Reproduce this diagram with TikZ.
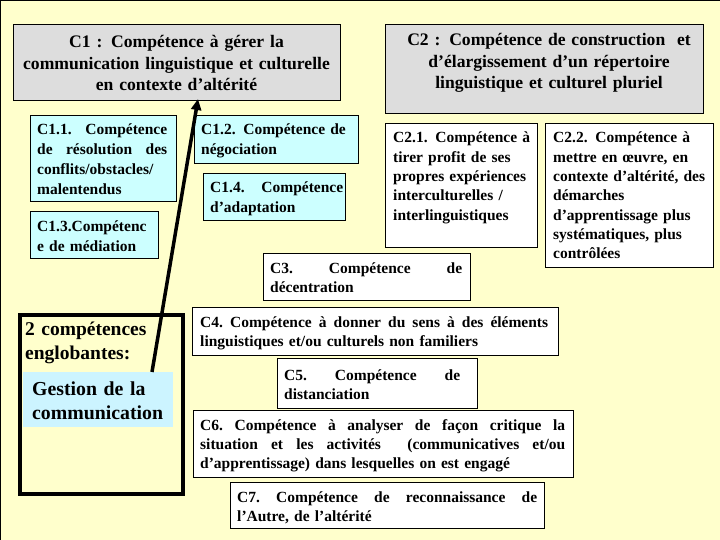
\documentclass[tikz,border=0pt]{standalone}
\usepackage{fontspec}
\setmainfont{Liberation Serif}
\usetikzlibrary{arrows.meta}
\definecolor{bgy}{HTML}{FFFFCC}
\definecolor{gbox}{HTML}{DDDDDD}
\definecolor{cbox}{HTML}{CCFFFF}
\definecolor{gcom}{HTML}{CCF4FF}
\newcommand\jl[2]{\leavevmode\hbox to #1{#2}}
\begin{document}
\begin{tikzpicture}[x=1pt,y=-1pt,
  frame/.style={draw=black, line width=1pt, anchor=north west, inner sep=0pt},
  graybox/.style={frame, fill=gbox},
  cyanbox/.style={frame, fill=cbox},
  whitebox/.style={frame, fill=white},
  title/.style={anchor=base, inner sep=0pt, align=center, font=\bfseries\fontsize{17.6}{21.5}\selectfont},
  txt/.style={anchor=base west, inner sep=0pt, align=left, font=\bfseries\fontsize{15.5}{19.3}\selectfont},
  big/.style={anchor=base west, inner sep=0pt, align=left, font=\bfseries\fontsize{19.5}{24}\selectfont}]
\fill[bgy] (0,0) rectangle (720,540);
\useasboundingbox (0,0) rectangle (720,540);
\draw[line width=1pt] (0,0.5) -- (720,0.5);
\draw[line width=1pt] (0.5,0) -- (0.5,540);

% C1 and C2
\node[graybox, minimum width=327pt, minimum height=76pt] (c1) at (13,24) {};
\node[title, text width=325pt] (c1t) at (176.5,48) {C1 : Compétence à gérer la\\communication linguistique et culturelle\\en contexte d’altérité};
\node[graybox, minimum width=318pt, minimum height=89pt] (c2) at (385,24) {};
\node[title, text width=315pt] (c2t) at (549,46) {C2 : Compétence de construction~ et\\d’élargissement d’un répertoire\\linguistique et culturel pluriel};

% C1 sub-boxes
\node[cyanbox, minimum width=146pt, minimum height=86pt] (c11) at (30,115) {};
\node[txt, font=\bfseries\fontsize{15.5}{20}\selectfont, text width=130pt] (c11t) at (37,135) {\jl{130pt}{C1.1.\hfill Compétence}\\\jl{130pt}{de\hfill résolution\hfill des}\\conflits/obstacles/\\malentendus};
\node[cyanbox, minimum width=128pt, minimum height=47pt] (c13) at (30,211) {};
\node[txt, text width=120pt] (c13t) at (37,232) {C1.3.Compétenc\\e de médiation};
\node[cyanbox, minimum width=164pt, minimum height=48pt] (c12) at (194,115) {};
\node[txt, text width=155pt] (c12t) at (201,135) {C1.2. Compétence de\\négociation};
\node[cyanbox, minimum width=142pt, minimum height=47pt] (c14) at (203,173) {};
\node[txt, text width=133pt] (c14t) at (210,193) {\jl{133pt}{C1.4.\hfill Compétence}\\d’adaptation};

% C2 sub-boxes
\node[whitebox, minimum width=152pt, minimum height=124pt] (c21) at (385,123) {};
\node[txt, text width=145pt] (c21t) at (393,143) {C2.1. Compétence à\\tirer profit de ses\\propres expériences\\interculturelles /\\interlinguistiques};
\node[whitebox, minimum width=168pt, minimum height=144pt] (c22) at (545,123) {};
\node[txt, text width=160pt] (c22t) at (553,143) {C2.2. Compétence à\\mettre en œuvre, en\\contexte d’altérité, des\\démarches\\d’apprentissage plus\\systématiques, plus\\contrôlées};

% C3 - C7
\node[whitebox, minimum width=207pt, minimum height=47pt] (c3) at (263,253) {};
\node[txt, text width=192pt] (c3t) at (270,273) {\jl{192pt}{C3.\hfill Compétence\hfill de}\\décentration};
\node[whitebox, minimum width=366pt, minimum height=48pt] (c4) at (192,307) {};
\node[txt, text width=348pt] (c4t) at (200,327) {\jl{348pt}{C4.\hfill Compétence\hfill à\hfill donner\hfill du\hfill sens\hfill à\hfill des\hfill éléments}\\linguistiques et/ou culturels non familiers};
\node[whitebox, minimum width=200pt, minimum height=50pt] (c5) at (277,358) {};
\node[txt, text width=176pt] (c5t) at (284,380) {\jl{176pt}{C5.\hfill Compétence\hfill de}\\distanciation};
\node[whitebox, minimum width=380pt, minimum height=67pt] (c6) at (193,410) {};
\node[txt, text width=365pt] (c6t) at (200,430) {\jl{365pt}{C6.\hfill Compétence\hfill à\hfill analyser\hfill de\hfill façon\hfill critique\hfill la}\\\jl{365pt}{situation\hfill et\hfill les\hfill activités\hfill\hfill (communicatives\hfill et/ou}\\d’apprentissage) dans lesquelles on est engagé};
\node[whitebox, minimum width=314pt, minimum height=46pt] (c7) at (230,482) {};
\node[txt, text width=300pt] (c7t) at (237,502) {\jl{300pt}{C7.\hfill Compétence\hfill de\hfill reconnaissance\hfill de}\\l’Autre, de l’altérité};

% englobing box
\node[draw=black, line width=3.5pt, anchor=north west, inner sep=0pt, minimum width=163pt, minimum height=179pt] (eng) at (18,313) {};
\node[big, text width=150pt] (engt) at (25,335) {2 compétences\\englobantes:};
\node[fill=gcom, anchor=north west, inner sep=0pt, minimum width=150pt, minimum height=55pt] (gest) at (23,372) {};
\node[big, font=\bfseries\fontsize{19.8}{24}\selectfont, text width=140pt] (gestt) at (32,395) {Gestion de la\\communication};

% arrow
\coordinate (a1) at (152,372);
\coordinate (a2) at (198,99);
\draw[line width=3.5pt, -{Triangle[length=11pt,width=10pt]}] (a1) -- (a2);
\end{tikzpicture}
\end{document}
